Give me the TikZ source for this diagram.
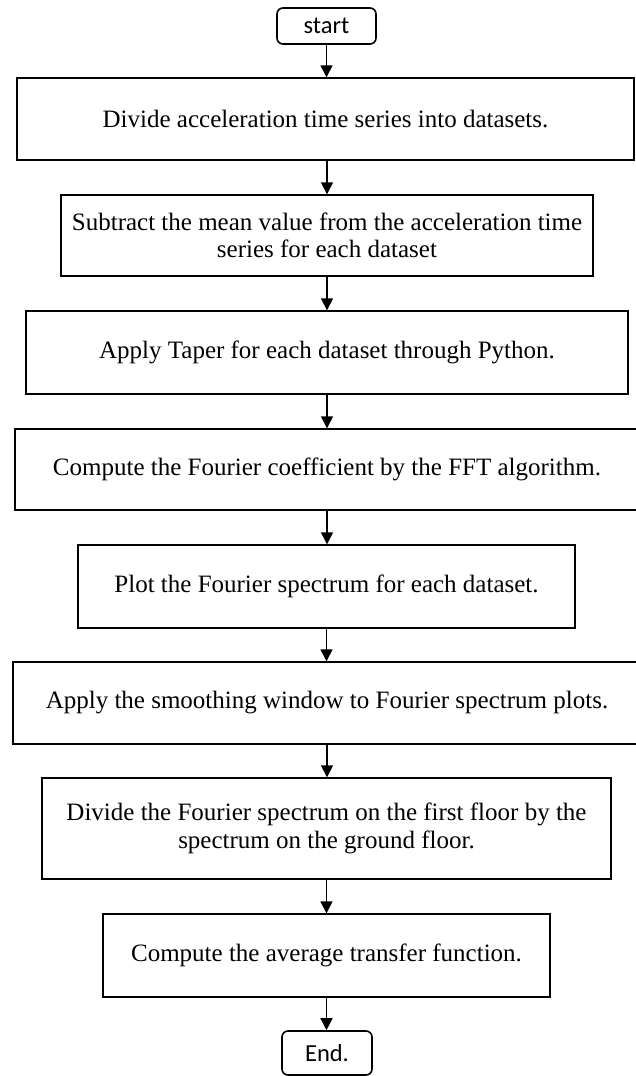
\documentclass[tikz,border=0pt]{standalone}
\usepackage{fontspec}
\setmainfont{Liberation Serif}
\newfontfamily\termfont{Carlito}
\usetikzlibrary{arrows.meta}
\tikzset{
  procbox/.style={draw=black, line width=1.4pt, fill=white, align=center, inner sep=0pt,
    font=\fontsize{25}{27.5}\selectfont},
  termbox/.style={draw=black, line width=1.6pt, rounded corners=6pt, fill=white, inner sep=0pt,
    font=\termfont\fontsize{24.5}{27}\selectfont},
  arr/.style={line width=1.4pt, -{Triangle[width=12pt,length=12pt]}}
}
\begin{document}
\begin{tikzpicture}[x=1pt,y=-1pt]
\useasboundingbox (0,0) rectangle (636,1076);
\node[termbox, minimum width=99pt, minimum height=36pt] (start) at (326.5,26) {start};
\node[procbox, minimum width=617pt, minimum height=82pt] (b1) at (325.5,119) {Divide acceleration time series into datasets.};
\node[procbox, minimum width=532pt, minimum height=81pt] (b2) at (327,235.5) {Subtract the mean value from the acceleration time\\series for each dataset};
\node[procbox, minimum width=602pt, minimum height=83pt] (b3) at (327,352.5) {Apply Taper for each dataset through Python.};
\node[procbox, minimum width=624pt, minimum height=81pt] (b4) at (327,469.5) {Compute the Fourier coefficient by the FFT algorithm.};
\node[procbox, minimum width=497pt, minimum height=83pt] (b5) at (326.5,586.5) {Plot the Fourier spectrum for each dataset.};
\node[procbox, minimum width=628pt, minimum height=82pt] (b6) at (327,703) {Apply the smoothing window to Fourier spectrum plots.};
\node[procbox, minimum width=569pt, minimum height=101pt] (b7) at (326.5,828.5) {Divide the Fourier spectrum on the first floor by the\\spectrum on the ground floor.};
\node[procbox, minimum width=447pt, minimum height=83pt] (b8) at (326.5,955.5) {Compute the average transfer function.};
\node[termbox, minimum width=90pt, minimum height=44pt] (end) at (327,1053) {End.};
\draw[arr] (start.south) -- (start.south |- b1.north);
\draw[arr] (b1.south -| b2.north) -- (b2.north);
\draw[arr] (b2.south) -- (b2.south |- b3.north);
\draw[arr] (b3.south) -- (b3.south |- b4.north);
\draw[arr] (b4.south) -- (b4.south |- b5.north);
\draw[arr] (b5.south) -- (b5.south |- b6.north);
\draw[arr] (b6.south) -- (b6.south |- b7.north);
\draw[arr] (b7.south) -- (b7.south |- b8.north);
\draw[arr] (b8.south) -- (b8.south |- end.north);
\end{tikzpicture}
\end{document}
